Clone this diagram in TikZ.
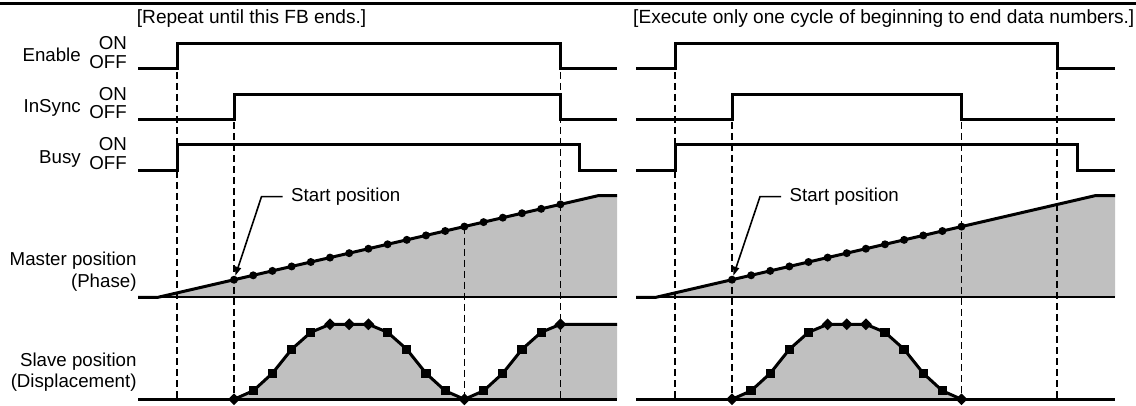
\documentclass[tikz,border=0pt]{standalone}
\usepackage{fontspec}
\setmainfont{Liberation Sans}
\usetikzlibrary{shapes.geometric,arrows.meta}
\definecolor{fillgray}{HTML}{C0C0C0}
\tikzset{
  sig/.style={line width=3pt, line join=miter},
  baseln/.style={line width=2.4pt},
  curve/.style={line width=3pt, line join=round},
  guide/.style={line width=1.5pt, dash pattern=on 7pt off 4pt},
  lbl/.style={font=\fontsize{18.7}{22}\selectfont, inner sep=0pt},
  hdr/.style={font=\fontsize{19.1}{22}\selectfont, inner sep=0pt},
  mdot/.style={circle, fill=black, inner sep=0pt, minimum size=8pt},
  msq/.style={rectangle, fill=black, inner sep=0pt, minimum size=9.3pt},
  mdia/.style={diamond, fill=black, inner sep=0pt, minimum size=12pt},
  leader/.style={line width=1.6pt, -{Triangle[length=9pt,width=6pt]}},
}
\begin{document}
\begin{tikzpicture}[x=1pt,y=-1pt]
\useasboundingbox (0,0) rectangle (1136,406);
\draw[line width=3pt] (0,4) -- (1136,4);

% headers
\node[hdr, anchor=base west] (hL) at (136.7,23.3) {[Repeat until this FB ends.]};
\node[hdr, anchor=base west] (hR) at (633,23.3) {[Execute only one cycle of beginning to end data numbers.]};

% signal labels
\foreach \nm/\H/\L in {Enable/43.5/69, InSync/94.3/119.5, Busy/145/170.5}{
  \node[lbl, anchor=base east] (lab\nm) at (81,{\L-7}) {\nm};
  \node[lbl, anchor=base east] (on\nm) at (127,{\H+5.8}) {ON};
  \node[lbl, anchor=base east] (off\nm) at (127,{\L-0.5}) {OFF};
}
\node[lbl, anchor=base east] (labM1) at (136.7,265.5) {Master position};
\node[lbl, anchor=base east] (labM2) at (136.7,288) {(Phase)};
\node[lbl, anchor=base east] (labS1) at (136.7,366.5) {Slave position};
\node[lbl, anchor=base east] (labS2) at (136.7,387.5) {(Displacement)};

% ---------- coordinates ----------
\foreach \i/\h in {0/0,1/8.5,2/26,3/50,4/67,5/75,6/75,7/75,8/67,9/50,10/26,11/8.5,12/0,13/8.5,14/26,15/50,16/67,17/75}
  \coordinate (cL\i) at ({234+\i*19.2},{399.3-\h});
\foreach \i in {0,...,17}
  \coordinate (pL\i) at ({234+\i*19.2},{297.3-(\i*19.2+76)*0.23091});
\foreach \i/\h in {0/0,1/8.5,2/26,3/50,4/67,5/75,6/75,7/75,8/67,9/50,10/26,11/8.5,12/0}
  \coordinate (cR\i) at ({732+\i*19.125},{399.3-\h});
\foreach \i in {0,...,12}
  \coordinate (pR\i) at ({732+\i*19.125},{297.3-(\i*19.125+76)*0.23144});

% ---------- fills ----------
\fill[fillgray] (158,297.3) -- (598,195.7) -- (617,195.7) -- (617,297.3) -- cycle;
\fill[fillgray] (cL0) \foreach \i in {1,...,17}{ -- (cL\i)} -- (617,324.3) -- (617,399.3) -- cycle;
\fill[fillgray] (656,297.3) -- (1095,195.7) -- (1115,195.7) -- (1115,297.3) -- cycle;
\fill[fillgray] (cR0) \foreach \i in {1,...,12}{ -- (cR\i)} -- cycle;

% ---------- dashed guides ----------
\draw[guide] (177,72) -- (177,399.3);
\draw[guide] (234,122) -- (cL0);
\draw[guide] (pL12) -- (cL12);
\draw[guide] (560.4,72) -- (560.4,399.3);
\draw[guide] (675,72) -- (675,399.3);
\draw[guide] (732,122) -- (cR0);
\draw[guide] (961.5,122) -- (cR12);
\draw[guide] (1057,72) -- (1057,399.3);

% ---------- baselines ----------
\draw[baseln] (138,297.3) -- (617,297.3);
\draw[baseln] (138,399.3) -- (617,399.3);
\draw[baseln] (636,297.3) -- (1115,297.3);
\draw[baseln] (636,399.3) -- (1115,399.3);

% ---------- master lines ----------
\draw[curve] (138,297.3) -- (158,297.3) -- (598,195.7) -- (617,195.7);
\draw[curve] (636,297.3) -- (656,297.3) -- (1095,195.7) -- (1115,195.7);

% ---------- slave curves ----------
\draw[curve] (cL0) \foreach \i in {1,...,17}{ -- (cL\i)} -- (617,324.3);
\draw[curve] (cR0) \foreach \i in {1,...,12}{ -- (cR\i)};

% ---------- signals ----------
\draw[sig] (138,69) -- (177,69) -- (177,43.5) -- (560.4,43.5) -- (560.4,69) -- (617,69);
\draw[sig] (138,119.5) -- (234,119.5) -- (234,94.3) -- (560.4,94.3) -- (560.4,119.5) -- (617,119.5);
\draw[sig] (138,170.5) -- (177,170.5) -- (177,145) -- (579,145) -- (579,170.5) -- (617,170.5);
\draw[sig] (636,69) -- (675,69) -- (675,43.5) -- (1057,43.5) -- (1057,69) -- (1115,69);
\draw[sig] (636,119.5) -- (732,119.5) -- (732,94.3) -- (961.5,94.3) -- (961.5,119.5) -- (1115,119.5);
\draw[sig] (636,170.5) -- (675,170.5) -- (675,145) -- (1077,145) -- (1077,170.5) -- (1115,170.5);

% ---------- markers ----------
\foreach \i in {0,...,17} \node[mdot] (mL\i) at (pL\i) {};
\foreach \i in {0,...,12} \node[mdot] (mR\i) at (pR\i) {};
\foreach \i in {1,2,3,4,8,9,10,11,13,14,15,16} \node[msq] (sL\i) at (cL\i) {};
\foreach \i in {0,5,6,7,12,17} \node[mdia] (sL\i) at (cL\i) {};
\foreach \i in {1,2,3,4,8,9,10,11} \node[msq] (sR\i) at (cR\i) {};
\foreach \i in {0,5,6,7,12} \node[mdia] (sR\i) at (cR\i) {};

% ---------- start position labels ----------
\node[lbl, anchor=base west] (spL) at (291,201.5) {Start position};
\node[lbl, anchor=base west] (spR) at (789.5,201.5) {Start position};
\draw[leader] ([xshift=-8.5pt]spL.west) -- ++(-21,0) -- (mL0);
\draw[leader] ([xshift=-8.5pt]spR.west) -- ++(-21,0) -- (mR0);
\end{tikzpicture}
\end{document}
